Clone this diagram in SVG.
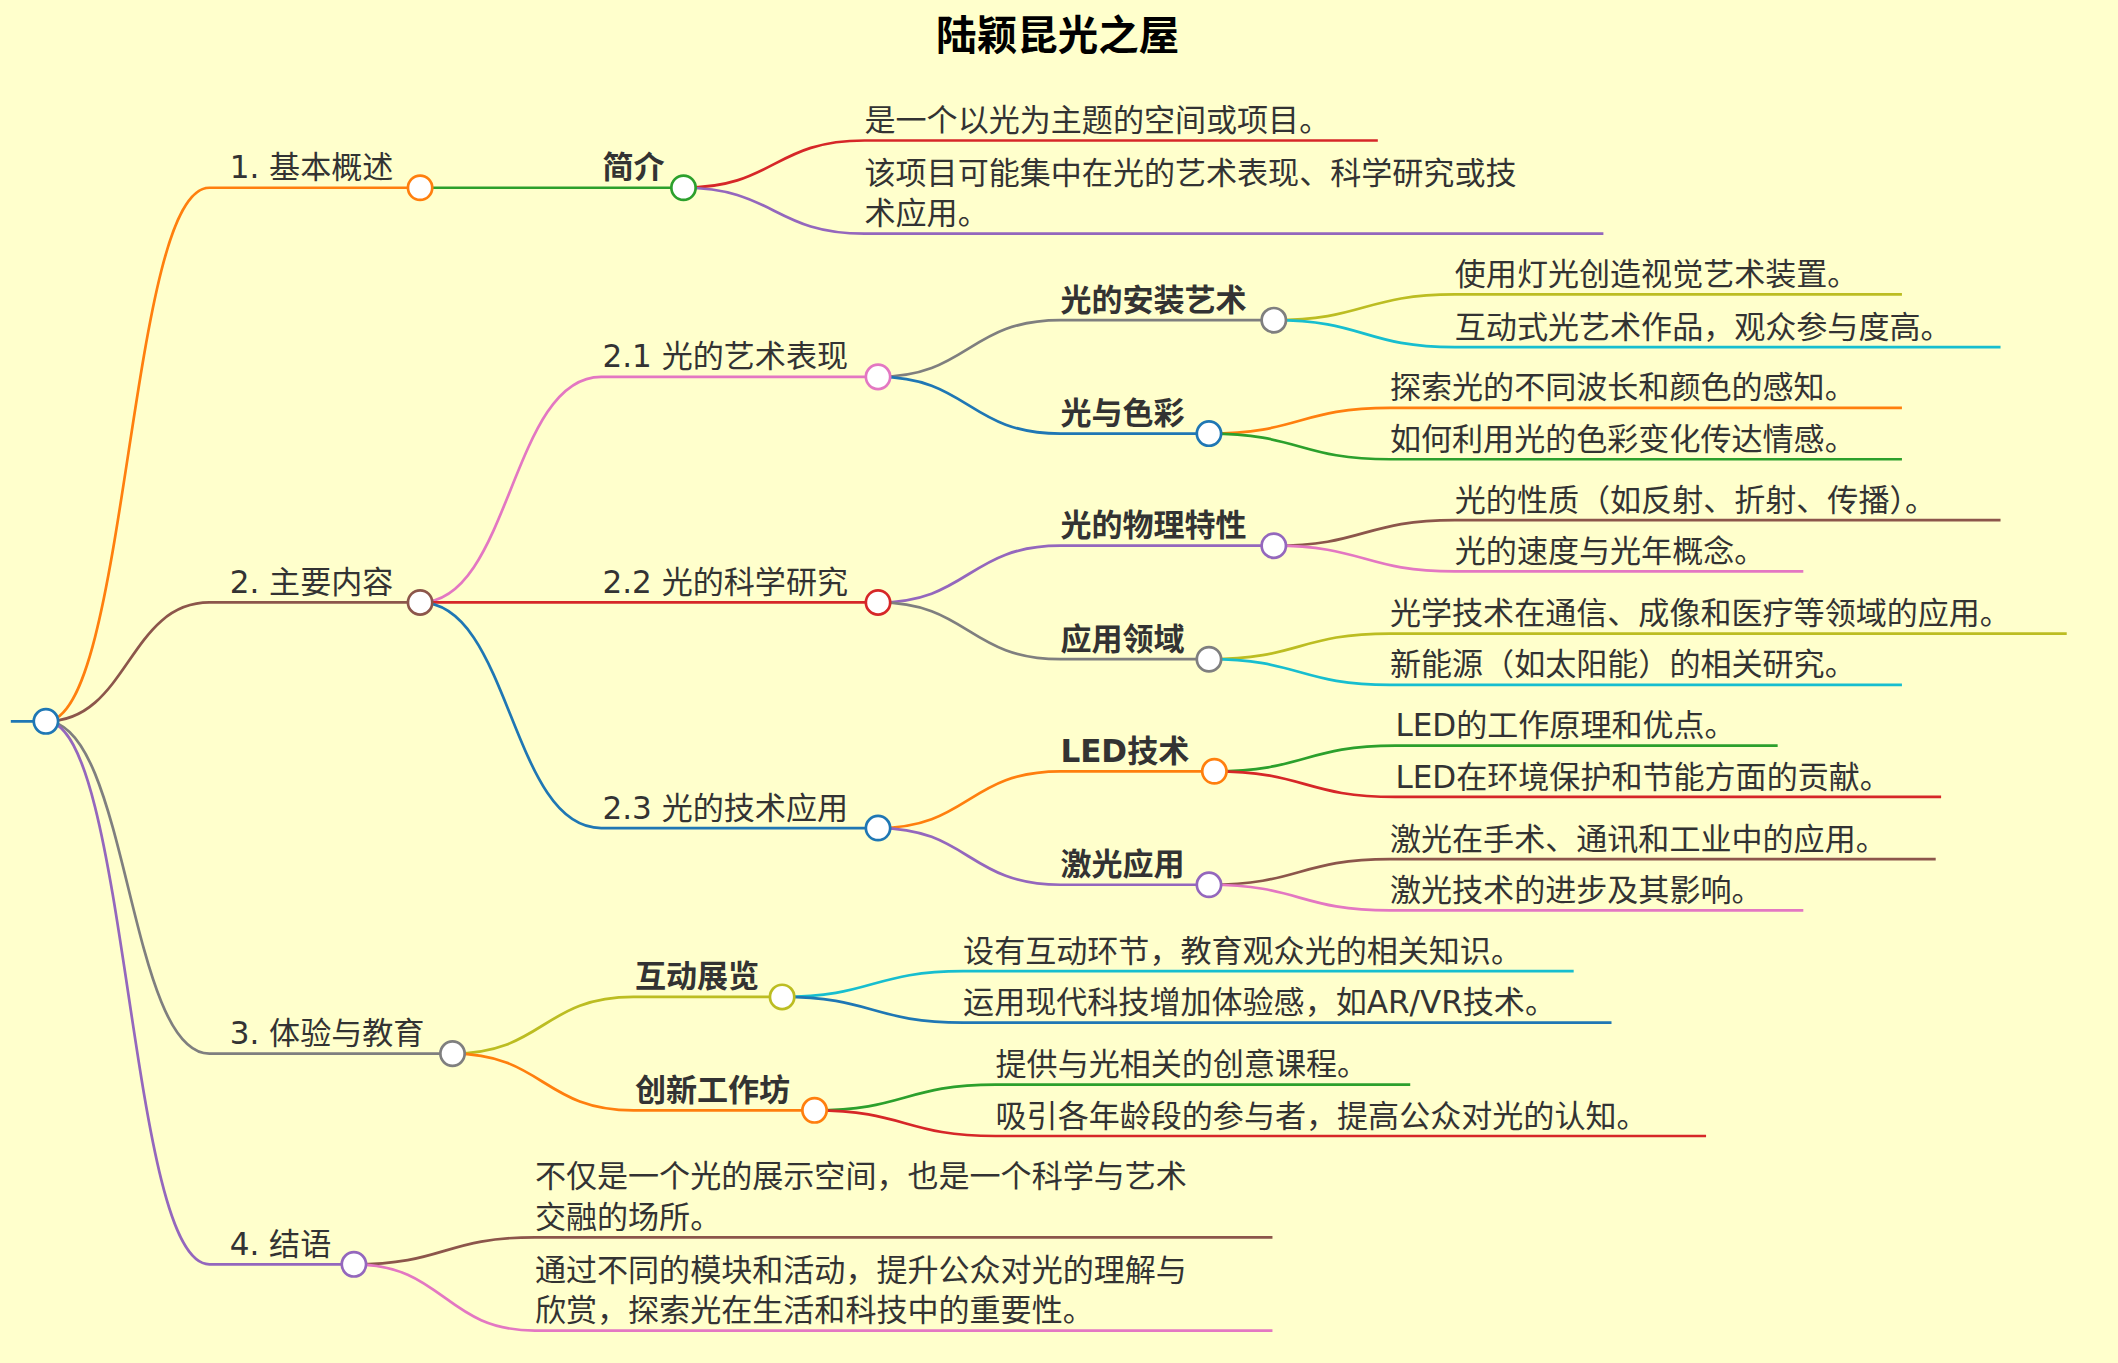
<svg xmlns="http://www.w3.org/2000/svg" width="2118" height="1363" viewBox="0 0 2118 1363">
<style>
text{font-family:"DejaVu Sans","Noto Sans CJK SC",sans-serif;font-size:23px;fill:#333}
.b{font-weight:bold}
.t{font-size:30px;font-weight:bold;fill:#000;text-anchor:middle}
path{fill:none;stroke-width:2}
circle{fill:#fff;stroke-width:2}
</style>
<rect width="2118" height="1363" fill="#ffffcc"/>
<g transform="scale(1.3508)">
<text class="t" x="783" y="37">陆颖昆光之屋</text>
<g id="connectors">
<path d="M8 534H34" stroke="#1f77b4"/>
<path d="M34 534C95 534 95 139 155 139H311" stroke="#ff7f0e"/>
<path d="M34 534C95 534 95 446 155 446H311" stroke="#8c564b"/>
<path d="M34 534C95 534 95 780 155 780H335" stroke="#7f7f7f"/>
<path d="M34 534C95 534 95 936 155 936H262" stroke="#9467bd"/>
<path d="M311 139H506" stroke="#2ca02c"/>
<path d="M506 139C573 139 573 104 640 104H1020" stroke="#d62728"/>
<path d="M506 139C573 139 573 173 640 173H1187" stroke="#9467bd"/>
<path d="M311 446C378 446 378 279 445 279H650" stroke="#e377c2"/>
<path d="M311 446H650" stroke="#d62728"/>
<path d="M311 446C378 446 378 613 445 613H650" stroke="#1f77b4"/>
<path d="M650 279C717 279 717 237 785 237H943" stroke="#7f7f7f"/>
<path d="M650 279C717 279 717 321 785 321H895" stroke="#1f77b4"/>
<path d="M650 446C717 446 717 404 785 404H943" stroke="#9467bd"/>
<path d="M650 446C717 446 717 488 785 488H895" stroke="#7f7f7f"/>
<path d="M650 613C717 613 717 571 785 571H899" stroke="#ff7f0e"/>
<path d="M650 613C717 613 717 655 785 655H895" stroke="#9467bd"/>
<path d="M943 237C1010 237 1010 218 1077 218H1408" stroke="#bcbd22"/>
<path d="M943 237C1010 237 1010 257 1077 257H1481" stroke="#17becf"/>
<path d="M895 321C962 321 962 302 1029 302H1408" stroke="#ff7f0e"/>
<path d="M895 321C962 321 962 340 1029 340H1408" stroke="#2ca02c"/>
<path d="M943 404C1010 404 1010 385 1077 385H1481" stroke="#8c564b"/>
<path d="M943 404C1010 404 1010 423 1077 423H1335" stroke="#e377c2"/>
<path d="M895 488C962 488 962 469 1029 469H1530" stroke="#bcbd22"/>
<path d="M895 488C962 488 962 507 1029 507H1408" stroke="#17becf"/>
<path d="M899 571C966 571 966 552 1033 552H1316" stroke="#2ca02c"/>
<path d="M899 571C966 571 966 590 1033 590H1437" stroke="#d62728"/>
<path d="M895 655C962 655 962 636 1029 636H1433" stroke="#8c564b"/>
<path d="M895 655C962 655 962 674 1029 674H1335" stroke="#e377c2"/>
<path d="M335 780C402 780 402 738 469 738H579" stroke="#bcbd22"/>
<path d="M335 780C402 780 402 822 469 822H603" stroke="#ff7f0e"/>
<path d="M579 738C646 738 646 719 713 719H1165" stroke="#17becf"/>
<path d="M579 738C646 738 646 757 713 757H1193" stroke="#1f77b4"/>
<path d="M603 822C670 822 670 803 737 803H1044" stroke="#2ca02c"/>
<path d="M603 822C670 822 670 841 737 841H1263" stroke="#d62728"/>
<path d="M262 936C329 936 329 916 396 916H942" stroke="#8c564b"/>
<path d="M262 936C329 936 329 985 396 985H942" stroke="#e377c2"/>
</g>
<g id="root"><circle cx="34" cy="534" r="9" stroke="#1f77b4"/></g>
<g id="n1"><text x="170" y="132">1. 基本概述</text><circle cx="311" cy="139" r="9" stroke="#ff7f0e"/></g>
<g id="n2"><text x="170" y="439">2. 主要内容</text><circle cx="311" cy="446" r="9" stroke="#8c564b"/></g>
<g id="n3"><text x="170" y="773">3. 体验与教育</text><circle cx="335" cy="780" r="9" stroke="#7f7f7f"/></g>
<g id="n4"><text x="170" y="929">4. 结语</text><circle cx="262" cy="936" r="9" stroke="#9467bd"/></g>
<g id="n11"><text class="b" x="446" y="132">简介</text><circle cx="506" cy="139" r="9" stroke="#2ca02c"/></g>
<g id="l111"><text x="640" y="97">是一个以光为主题的空间或项目。</text></g>
<g id="l112"><text x="640" y="136">该项目可能集中在光的艺术表现、科学研究或技</text><text x="640" y="166">术应用。</text></g>
<g id="n21"><text x="446" y="272">2.1 光的艺术表现</text><circle cx="650" cy="279" r="9" stroke="#e377c2"/></g>
<g id="n22"><text x="446" y="439">2.2 光的科学研究</text><circle cx="650" cy="446" r="9" stroke="#d62728"/></g>
<g id="n23"><text x="446" y="606">2.3 光的技术应用</text><circle cx="650" cy="613" r="9" stroke="#1f77b4"/></g>
<g id="n211"><text class="b" x="785" y="230">光的安装艺术</text><circle cx="943" cy="237" r="9" stroke="#7f7f7f"/></g>
<g id="n212"><text class="b" x="785" y="314">光与色彩</text><circle cx="895" cy="321" r="9" stroke="#1f77b4"/></g>
<g id="n221"><text class="b" x="785" y="397">光的物理特性</text><circle cx="943" cy="404" r="9" stroke="#9467bd"/></g>
<g id="n222"><text class="b" x="785" y="481">应用领域</text><circle cx="895" cy="488" r="9" stroke="#7f7f7f"/></g>
<g id="n231"><text class="b" x="785" y="564">LED技术</text><circle cx="899" cy="571" r="9" stroke="#ff7f0e"/></g>
<g id="n232"><text class="b" x="785" y="648">激光应用</text><circle cx="895" cy="655" r="9" stroke="#9467bd"/></g>
<g id="leaves2">
<text x="1077" y="211">使用灯光创造视觉艺术装置。</text>
<text x="1077" y="250">互动式光艺术作品，观众参与度高。</text>
<text x="1029" y="295">探索光的不同波长和颜色的感知。</text>
<text x="1029" y="333">如何利用光的色彩变化传达情感。</text>
<text x="1077" y="378">光的性质（如反射、折射、传播）。</text>
<text x="1077" y="416">光的速度与光年概念。</text>
<text x="1029" y="462">光学技术在通信、成像和医疗等领域的应用。</text>
<text x="1029" y="500">新能源（如太阳能）的相关研究。</text>
<text x="1033" y="545">LED的工作原理和优点。</text>
<text x="1033" y="583">LED在环境保护和节能方面的贡献。</text>
<text x="1029" y="629">激光在手术、通讯和工业中的应用。</text>
<text x="1029" y="667">激光技术的进步及其影响。</text>
</g>
<g id="n31"><text class="b" x="470" y="731">互动展览</text><circle cx="579" cy="738" r="9" stroke="#bcbd22"/></g>
<g id="n32"><text class="b" x="470" y="815">创新工作坊</text><circle cx="603" cy="822" r="9" stroke="#ff7f0e"/></g>
<g id="leaves3">
<text x="713" y="712">设有互动环节，教育观众光的相关知识。</text>
<text x="713" y="750">运用现代科技增加体验感，如AR/VR技术。</text>
<text x="737" y="796">提供与光相关的创意课程。</text>
<text x="737" y="834">吸引各年龄段的参与者，提高公众对光的认知。</text>
</g>
<g id="leaves4">
<text x="396" y="879">不仅是一个光的展示空间，也是一个科学与艺术</text>
<text x="396" y="909">交融的场所。</text>
<text x="396" y="948">通过不同的模块和活动，提升公众对光的理解与</text>
<text x="396" y="978">欣赏，探索光在生活和科技中的重要性。</text>
</g>
</g>
</svg>
